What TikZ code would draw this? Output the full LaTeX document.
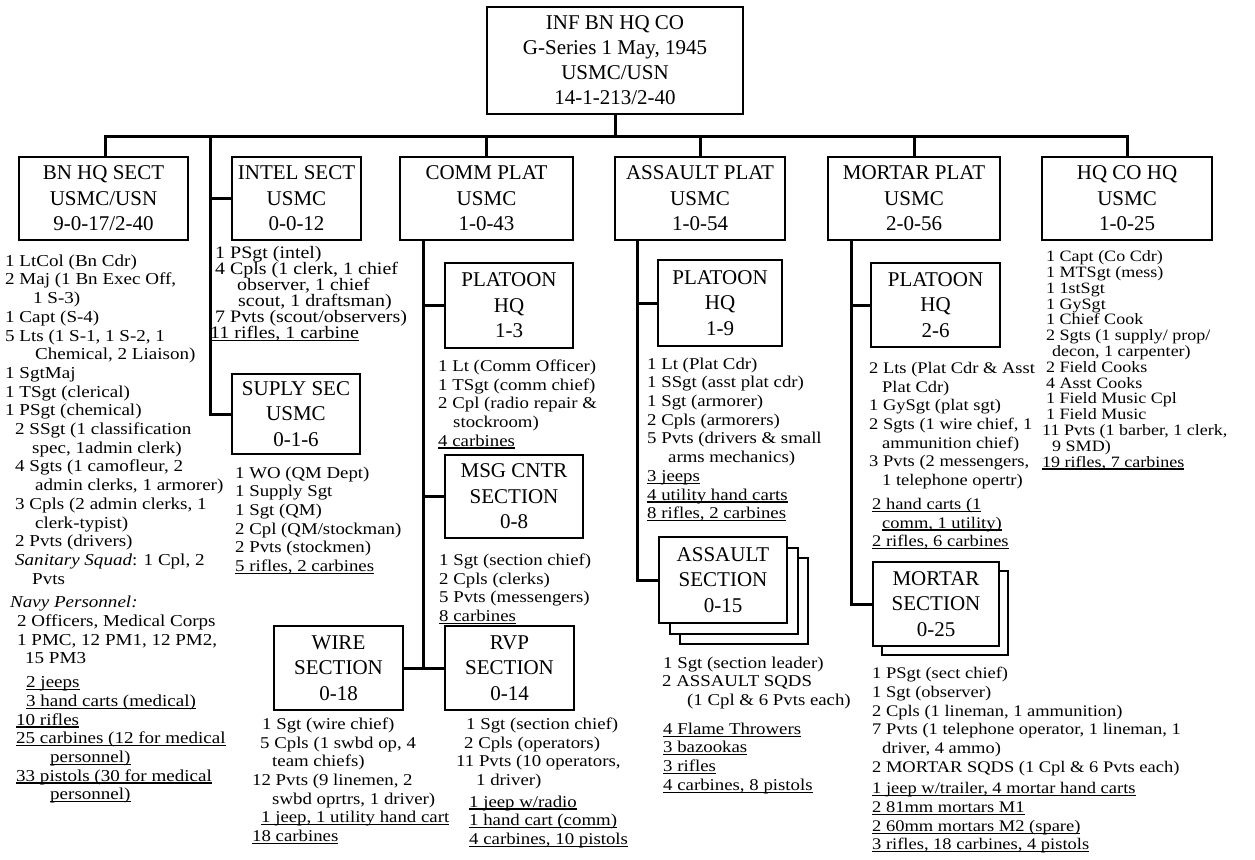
\documentclass[tikz,border=0pt]{standalone}
\usepackage{fontspec}
\setmainfont{Liberation Serif}
\newfontfamily\rosterfont{Liberation Serif}[FakeStretch=1.14]
\newcommand\undl[1]{\setbox0\hbox{#1}\rlap{\rule[-2.5pt]{\wd0}{1.2pt}}\box0}
\newcommand\rsize[2]{\rosterfont\fontsize{#1}{#2}\selectfont\lineskiplimit=-100pt}

\begin{document}
\begin{tikzpicture}[x=1pt, y=-1pt,
    unit/.style={draw, line width=2pt, fill=white, align=center, inner sep=0pt,
        font=\fontsize{21}{25.5}\selectfont},
    link/.style={line width=3pt},
    roster/.style={anchor=north west, align=left, inner sep=0pt,
        font=\rsize{16.5}{18.7}}]

    \fill[white] (0,0) rectangle (1255,859);
    \useasboundingbox (0,0) rectangle (1255,859);

    % Company box
    \node[unit, minimum width=256pt, minimum height=107pt, font=\fontsize{21}{25}\selectfont]
        (top) at (615,60.5) {INF BN HQ CO\\G-Series 1 May, 1945\\USMC/USN\\14-1-213/2-40};

    % Sections and platoons
    \node[unit, minimum width=169pt, minimum height=83pt] (bnhq) at (103.5,198.5) {BN HQ SECT\\USMC/USN\\9-0-17/2-40};
    \node[unit, minimum width=129pt, minimum height=83pt] (intel) at (296.5,198.5) {INTEL SECT\\USMC\\0-0-12};
    \node[unit, minimum width=173pt, minimum height=83pt] (comm) at (486.5,198.5) {COMM PLAT\\USMC\\1-0-43};
    \node[unit, minimum width=170pt, minimum height=83pt] (assault) at (700,198.5) {ASSAULT PLAT\\USMC\\1-0-54};
    \node[unit, minimum width=172pt, minimum height=83pt] (mortar) at (914,198.5) {MORTAR PLAT\\USMC\\2-0-56};
    \node[unit, minimum width=170pt, minimum height=83pt] (hqco) at (1127,198.5) {HQ CO HQ\\USMC\\1-0-25};
    \node[unit, minimum width=128pt, minimum height=80pt] (suply) at (296,414) {SUPLY SEC\\USMC\\0-1-6};

    % Comm platoon
    \node[unit, minimum width=128pt, minimum height=85pt] (commhq) at (509,305.5) {PLATOON\\HQ\\1-3};
    \node[unit, minimum width=138pt, minimum height=83pt] (msg) at (514,496.5) {MSG CNTR\\SECTION\\0-8};
    \node[unit, minimum width=129pt, minimum height=84pt] (wire) at (338.5,668) {WIRE\\SECTION\\0-18};
    \node[unit, minimum width=129pt, minimum height=84pt] (rvp) at (509.5,668) {RVP\\SECTION\\0-14};

    % Assault platoon
    \node[unit, minimum width=124pt, minimum height=86pt] (aslthq) at (720,303) {PLATOON\\HQ\\1-9};
    \node[unit, minimum width=128pt, minimum height=86pt] (asltsecc) at (744,601) {};
    \node[unit, minimum width=128pt, minimum height=86pt] (asltsecb) at (733.5,590.5) {};
    \node[unit, minimum width=128pt, minimum height=86pt] (asltsec) at (723,580) {ASSAULT\\SECTION\\0-15};

    % Mortar platoon
    \node[unit, minimum width=129pt, minimum height=84pt] (morthq) at (935.5,305) {PLATOON\\HQ\\2-6};
    \node[unit, minimum width=126pt, minimum height=84pt] (mortsecb) at (945,613) {};
    \node[unit, minimum width=126pt, minimum height=84pt] (mortsec) at (936,604) {MORTAR\\SECTION\\0-25};

    % Bus and drops
    \coordinate (busL) at (105,136);
    \coordinate (busR) at (hqco.north |- busL);
    \draw[link] (busL |- bnhq.north) -- (busL) -- (busR) -- (hqco.north);
    \draw[link] (top.south) -- (top.south |- busL);
    \foreach \n in {comm, assault, mortar}
        \draw[link] (\n.north) -- (\n.north |- busL);

    % Intel and supply
    \coordinate (itrunk) at (210,136);
    \draw[link] (itrunk) |- (suply.west);
    \draw[link] (intel.west) -- (intel.west -| itrunk);

    % Comm trunk
    \coordinate (ctrunk) at (423,240);
    \draw[link] (ctrunk) |- (rvp.west);
    \draw[link] (wire.east) -- (rvp.west);
    \draw[link] (commhq.west) -- (commhq.west -| ctrunk);
    \draw[link] (msg.west) -- (msg.west -| ctrunk);

    % Assault trunk
    \coordinate (atrunk) at (637,240);
    \draw[link] (atrunk) |- (asltsec.west);
    \draw[link] (aslthq.west) -- (aslthq.west -| atrunk);

    % Mortar trunk
    \coordinate (mtrunk) at (851,240);
    \draw[link] (mtrunk) |- (mortsec.west);
    \draw[link] (morthq.west) -- (morthq.west -| mtrunk);

    % Rosters
    \node[roster, font=\rsize{16.7}{18.7}] (bnhqlist) at (5,254.5) {1 LtCol (Bn Cdr)\\
        2 Maj (1 Bn Exec Off,\\
        \hspace*{28pt}1 S-3)\\
        1 Capt (S-4)\\
        5 Lts (1 S-1, 1 S-2, 1\\
        \hspace*{30pt}Chemical, 2 Liaison)\\
        1 SgtMaj\\
        1 TSgt (clerical)\\
        1 PSgt (chemical)\\
        \hspace*{10pt}2 SSgt (1 classification\\
        \hspace*{27pt}spec, 1admin clerk)\\
        \hspace*{10pt}4 Sgts (1 camofleur, 2\\
        \hspace*{30pt}admin clerks, 1 armorer)\\
        \hspace*{10pt}3 Cpls (2 admin clerks, 1\\
        \hspace*{30pt}clerk-typist)\\
        \hspace*{10pt}2 Pvts (drivers)\\
        \hspace*{10pt}\textit{Sanitary Squad}: 1 Cpl, 2\\
        \hspace*{27pt}Pvts\\[5pt]
        \hspace*{5pt}\textit{Navy Personnel:}\\
        \hspace*{12pt}2 Officers, Medical Corps\\
        \hspace*{12pt}1 PMC, 12 PM1, 12 PM2,\\
        \hspace*{20pt}15 PM3\\[5pt]
        \hspace*{21pt}\undl{2 jeeps}\\
        \hspace*{21pt}\undl{3 hand carts (medical)}\\
        \hspace*{11pt}\undl{10 rifles}\\
        \hspace*{11pt}\undl{25 carbines (12 for medical}\\
        \hspace*{45pt}\undl{personnel)}\\
        \hspace*{11pt}\undl{33 pistols (30 for medical}\\
        \hspace*{45pt}\undl{personnel)}};

    \node[roster, font=\rsize{17.5}{16}] (intellist) at (210,246.5) {\hspace*{5pt}1 PSgt (intel)\\
        \hspace*{5pt}4 Cpls (1 clerk, 1 chief\\
        \hspace*{27pt}observer, 1 chief\\
        \hspace*{28pt}scout, 1 draftsman)\\
        \hspace*{5pt}7 Pvts (scout/observers)\\
        \undl{11 rifles, 1 carbine}};

    \node[roster] (suplylist) at (235,466.5) {1 WO (QM Dept)\\1 Supply Sgt\\1 Sgt (QM)\\
        2 Cpl (QM/stockman)\\2 Pvts (stockmen)\\\undl{5 rifles, 2 carbines}};

    \node[roster] (commhqlist) at (438,359.5) {1 Lt (Comm Officer)\\1 TSgt (comm chief)\\
        2 Cpl (radio repair \&\\\hspace*{15pt}stockroom)\\\undl{4 carbines}};

    \node[roster] (msglist) at (439,553.5) {1 Sgt (section chief)\\2 Cpls (clerks)\\
        5 Pvts (messengers)\\\undl{8 carbines}};

    \node[roster] (rvplist) at (456,717.5) {\hspace*{10pt}1 Sgt (section chief)\\
        \hspace*{8pt}2 Cpls (operators)\\
        11 Pvts (10 operators,\\
        \hspace*{20pt}1 driver)\\[3pt]
        \hspace*{13pt}\undl{1 jeep w/radio}\\
        \hspace*{13pt}\undl{1 hand cart (comm)}\\
        \hspace*{13pt}\undl{4 carbines, 10 pistols}};

    \node[roster] (wirelist) at (252,717.5) {\hspace*{10pt}1 Sgt (wire chief)\\
        \hspace*{8pt}5 Cpls (1 swbd op, 4\\
        \hspace*{20pt}team chiefs)\\
        12 Pvts (9 linemen, 2\\
        \hspace*{20pt}swbd oprtrs, 1 driver)\\
        \hspace*{9pt}\undl{1 jeep, 1 utility hand cart}\\
        \undl{18 carbines}};

    \node[roster] (aslthqlist) at (647,357.5) {1 Lt (Plat Cdr)\\1 SSgt (asst plat cdr)\\
        1 Sgt (armorer)\\2 Cpls (armorers)\\5 Pvts (drivers \& small\\
        \hspace*{21pt}arms mechanics)\\\undl{3 jeeps}\\\undl{4 utility hand carts}\\
        \undl{8 rifles, 2 carbines}};

    \node[roster] (asltseclist) at (662,656.5) {\hspace*{1pt}1 Sgt (section leader)\\
        2 ASSAULT SQDS\\
        \hspace*{25pt}(1 Cpl \& 6 Pvts each)\\[10pt]
        \hspace*{1pt}\undl{4 Flame Throwers}\\
        \hspace*{1pt}\undl{3 bazookas}\\
        \hspace*{1pt}\undl{3 rifles}\\
        \hspace*{1pt}\undl{4 carbines, 8 pistols}};

    \node[roster, font=\rsize{16.2}{18.7}] (morthqlist) at (869,362) {2 Lts (Plat Cdr \& Asst\\
        \hspace*{13pt}Plat Cdr)\\
        1 GySgt (plat sgt)\\
        2 Sgts (1 wire chief, 1\\
        \hspace*{13pt}ammunition chief)\\
        3 Pvts (2 messengers,\\
        \hspace*{13pt}1 telephone opertr)\\[5pt]
        \hspace*{3pt}\undl{2 hand carts (1}\\
        \hspace*{13pt}\undl{comm, 1 utility)}\\
        \hspace*{3pt}\undl{2 rifles, 6 carbines}};

    \node[roster, font=\rsize{16.2}{18.7}] (mortseclist) at (872,667) {1 PSgt (sect chief)\\
        1 Sgt (observer)\\
        2 Cpls (1 lineman, 1 ammunition)\\
        7 Pvts (1 telephone operator, 1 lineman, 1\\
        \hspace*{10pt}driver, 4 ammo)\\
        2 MORTAR SQDS (1 Cpl \& 6 Pvts each)\\[3pt]
        \undl{1 jeep w/trailer, 4 mortar hand carts}\\
        \undl{2 81mm mortars M1}\\
        \undl{2 60mm mortars M2 (spare)}\\
        \undl{3 rifles, 18 carbines, 4 pistols}};

    \node[roster, font=\rsize{15.8}{15.8}] (hqcolist) at (1042,250.5) {\hspace*{4pt}1 Capt (Co Cdr)\\
        \hspace*{4pt}1 MTSgt (mess)\\
        \hspace*{4pt}1 1stSgt\\
        \hspace*{4pt}1 GySgt\\
        \hspace*{4pt}1 Chief Cook\\
        \hspace*{4pt}2 Sgts (1 supply/ prop/\\
        \hspace*{10pt}decon, 1 carpenter)\\
        \hspace*{4pt}2 Field Cooks\\
        \hspace*{4pt}4 Asst Cooks\\
        \hspace*{4pt}1 Field Music Cpl\\
        \hspace*{4pt}1 Field Music\\
        11 Pvts (1 barber, 1 clerk,\\
        \hspace*{10pt}9 SMD)\\
        \undl{19 rifles, 7 carbines}};
\end{tikzpicture}
\end{document}
